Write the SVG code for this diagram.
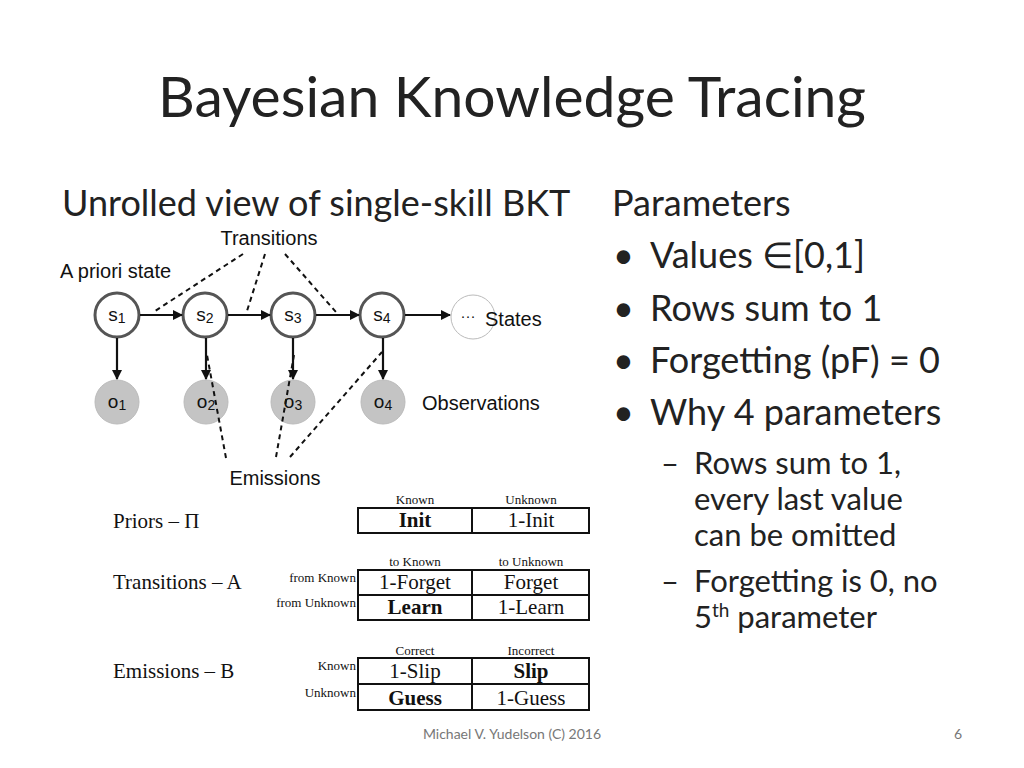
<svg xmlns="http://www.w3.org/2000/svg" width="1024" height="768" viewBox="0 0 1024 768">
<defs>
<style>
.c{font-family:Lato,"Open Sans",sans-serif;fill:#222}
.h{font-family:"Liberation Sans",Arial,sans-serif;fill:#111}
.s{font-family:"Liberation Serif",serif;fill:#111}
.st{fill:#fff;stroke:#555;stroke-width:3}
.ob{fill:#c4c4c4;stroke:#bbb;stroke-width:1}
.ar{stroke:#111;stroke-width:2.2;fill:none;marker-end:url(#a)}
.d{stroke:#111;stroke-width:2;stroke-dasharray:5,4;fill:none}
.t{fill:none;stroke:#111;stroke-width:2}
</style>
<marker id="a" markerWidth="10" markerHeight="10" refX="9" refY="5" orient="auto" markerUnits="userSpaceOnUse" viewBox="0 0 10 10"><path d="M0,0L10,5L0,10z" fill="#111"/></marker>
</defs>
<rect width="1024" height="768" fill="#fff"/>
<text class="c" x="512" y="117" font-size="57" text-anchor="middle">Bayesian Knowledge Tracing</text>
<text class="c" x="62" y="216" font-size="36">Unrolled view of single-skill BKT</text>
<g class="c" font-size="36">
<text x="612" y="216">Parameters</text>
<text x="613" y="268">•</text><text x="650" y="268">Values ∈[0,1]</text>
<text x="613" y="321">•</text><text x="650" y="321">Rows sum to 1</text>
<text x="613" y="373">•</text><text x="650" y="373">Forgetting (pF) = 0</text>
<text x="613" y="425">•</text><text x="650" y="425">Why 4 parameters</text>
</g>
<g class="c" font-size="31">
<text x="661" y="474">–</text><text x="694" y="474">Rows sum to 1,</text>
<text x="694" y="510">every last value</text>
<text x="694" y="546">can be omitted</text>
<text x="661" y="592">–</text><text x="694" y="592">Forgetting is 0, no</text>
<text x="694" y="628">5<tspan font-size="19" dy="-11">th</tspan><tspan dy="11"> parameter</tspan></text>
</g>
<g id="sn"><circle cx="473" cy="317" r="22" fill="#fff" stroke="#bbb" stroke-width="1"/><text class="h" x="468" y="321" font-size="15" text-anchor="middle">···</text></g>
<g class="h" font-size="20">
<text x="269" y="245" text-anchor="middle">Transitions</text>
<text x="60" y="278">A priori state</text>
<text x="485" y="326">States</text>
<text x="422" y="410">Observations</text>
<text x="275" y="485" text-anchor="middle">Emissions</text>
</g>
<g id="s1"><circle class="st" cx="117" cy="315" r="22"/><text class="h" x="117" y="321" font-size="19" text-anchor="middle">s<tspan font-size="14" dy="2">1</tspan></text></g>
<g id="s2"><circle class="st" cx="205" cy="315" r="22"/><text class="h" x="205" y="321" font-size="19" text-anchor="middle">s<tspan font-size="14" dy="2">2</tspan></text></g>
<g id="s3"><circle class="st" cx="293" cy="315" r="22"/><text class="h" x="293" y="321" font-size="19" text-anchor="middle">s<tspan font-size="14" dy="2">3</tspan></text></g>
<g id="s4"><circle class="st" cx="382" cy="315" r="22"/><text class="h" x="382" y="321" font-size="19" text-anchor="middle">s<tspan font-size="14" dy="2">4</tspan></text></g>
<g id="o1"><circle class="ob" cx="117" cy="402" r="22"/><text class="h" x="117" y="408" font-size="19" text-anchor="middle">o<tspan font-size="14" dy="2">1</tspan></text></g>
<g id="o2"><circle class="ob" cx="206" cy="402" r="22"/><text class="h" x="206" y="408" font-size="19" text-anchor="middle">o<tspan font-size="14" dy="2">2</tspan></text></g>
<g id="o3"><circle class="ob" cx="293" cy="402" r="22"/><text class="h" x="293" y="408" font-size="19" text-anchor="middle">o<tspan font-size="14" dy="2">3</tspan></text></g>
<g id="o4"><circle class="ob" cx="383" cy="402" r="22"/><text class="h" x="383" y="408" font-size="19" text-anchor="middle">o<tspan font-size="14" dy="2">4</tspan></text></g>
<g id="connectors">
<path class="ar" d="M140,315H182"/><path class="ar" d="M228,315H270"/><path class="ar" d="M316,315H359"/><path class="ar" d="M405,315H450"/>
<path class="ar" d="M117,338V379"/><path class="ar" d="M206,338V379"/><path class="ar" d="M293,338V379"/><path class="ar" d="M383,338V379"/>
<path class="d" d="M243,254L155,311"/><path class="d" d="M265,254L247,311"/><path class="d" d="M285,254L336,312"/>
<path class="d" d="M226,458L207,355"/><path class="d" d="M276,457L294,355"/><path class="d" d="M290,457L382,352"/>
</g>
<g id="tables">
<g class="s" font-size="21"><text x="113" y="528">Priors – Π</text><text x="113" y="589">Transitions – A</text><text x="113" y="678">Emissions – B</text></g>
<g class="s" font-size="13" text-anchor="middle">
<text x="415" y="504">Known</text><text x="531" y="504">Unknown</text>
<text x="415" y="566">to Known</text><text x="531" y="566">to Unknown</text>
<text x="415" y="655">Correct</text><text x="531" y="655">Incorrect</text>
</g>
<g class="s" font-size="13" text-anchor="end">
<text x="356" y="582">from Known</text><text x="356" y="607">from Unknown</text>
<text x="356" y="670">Known</text><text x="356" y="697">Unknown</text>
</g>
<rect class="t" x="358" y="508" width="231" height="25"/><path class="t" d="M472,508V533"/>
<rect class="t" x="358" y="570" width="231" height="50"/><path class="t" d="M472,570V620M358,595H589"/>
<rect class="t" x="358" y="658" width="231" height="52"/><path class="t" d="M472,658V710M358,684H589"/>
<g class="s" font-size="21" text-anchor="middle">
<text x="415" y="527" font-weight="bold">Init</text><text x="531" y="527">1-Init</text>
<text x="415" y="589">1-Forget</text><text x="531" y="589">Forget</text>
<text x="415" y="614" font-weight="bold">Learn</text><text x="531" y="614">1-Learn</text>
<text x="415" y="678">1-Slip</text><text x="531" y="678" font-weight="bold">Slip</text>
<text x="415" y="705" font-weight="bold">Guess</text><text x="531" y="705">1-Guess</text>
</g>
</g>
<text class="c" x="512" y="739" font-size="14" style="fill:#777" text-anchor="middle">Michael V. Yudelson (C) 2016</text>
<text class="c" x="958" y="739" font-size="14" style="fill:#777" text-anchor="middle">6</text>
</svg>
